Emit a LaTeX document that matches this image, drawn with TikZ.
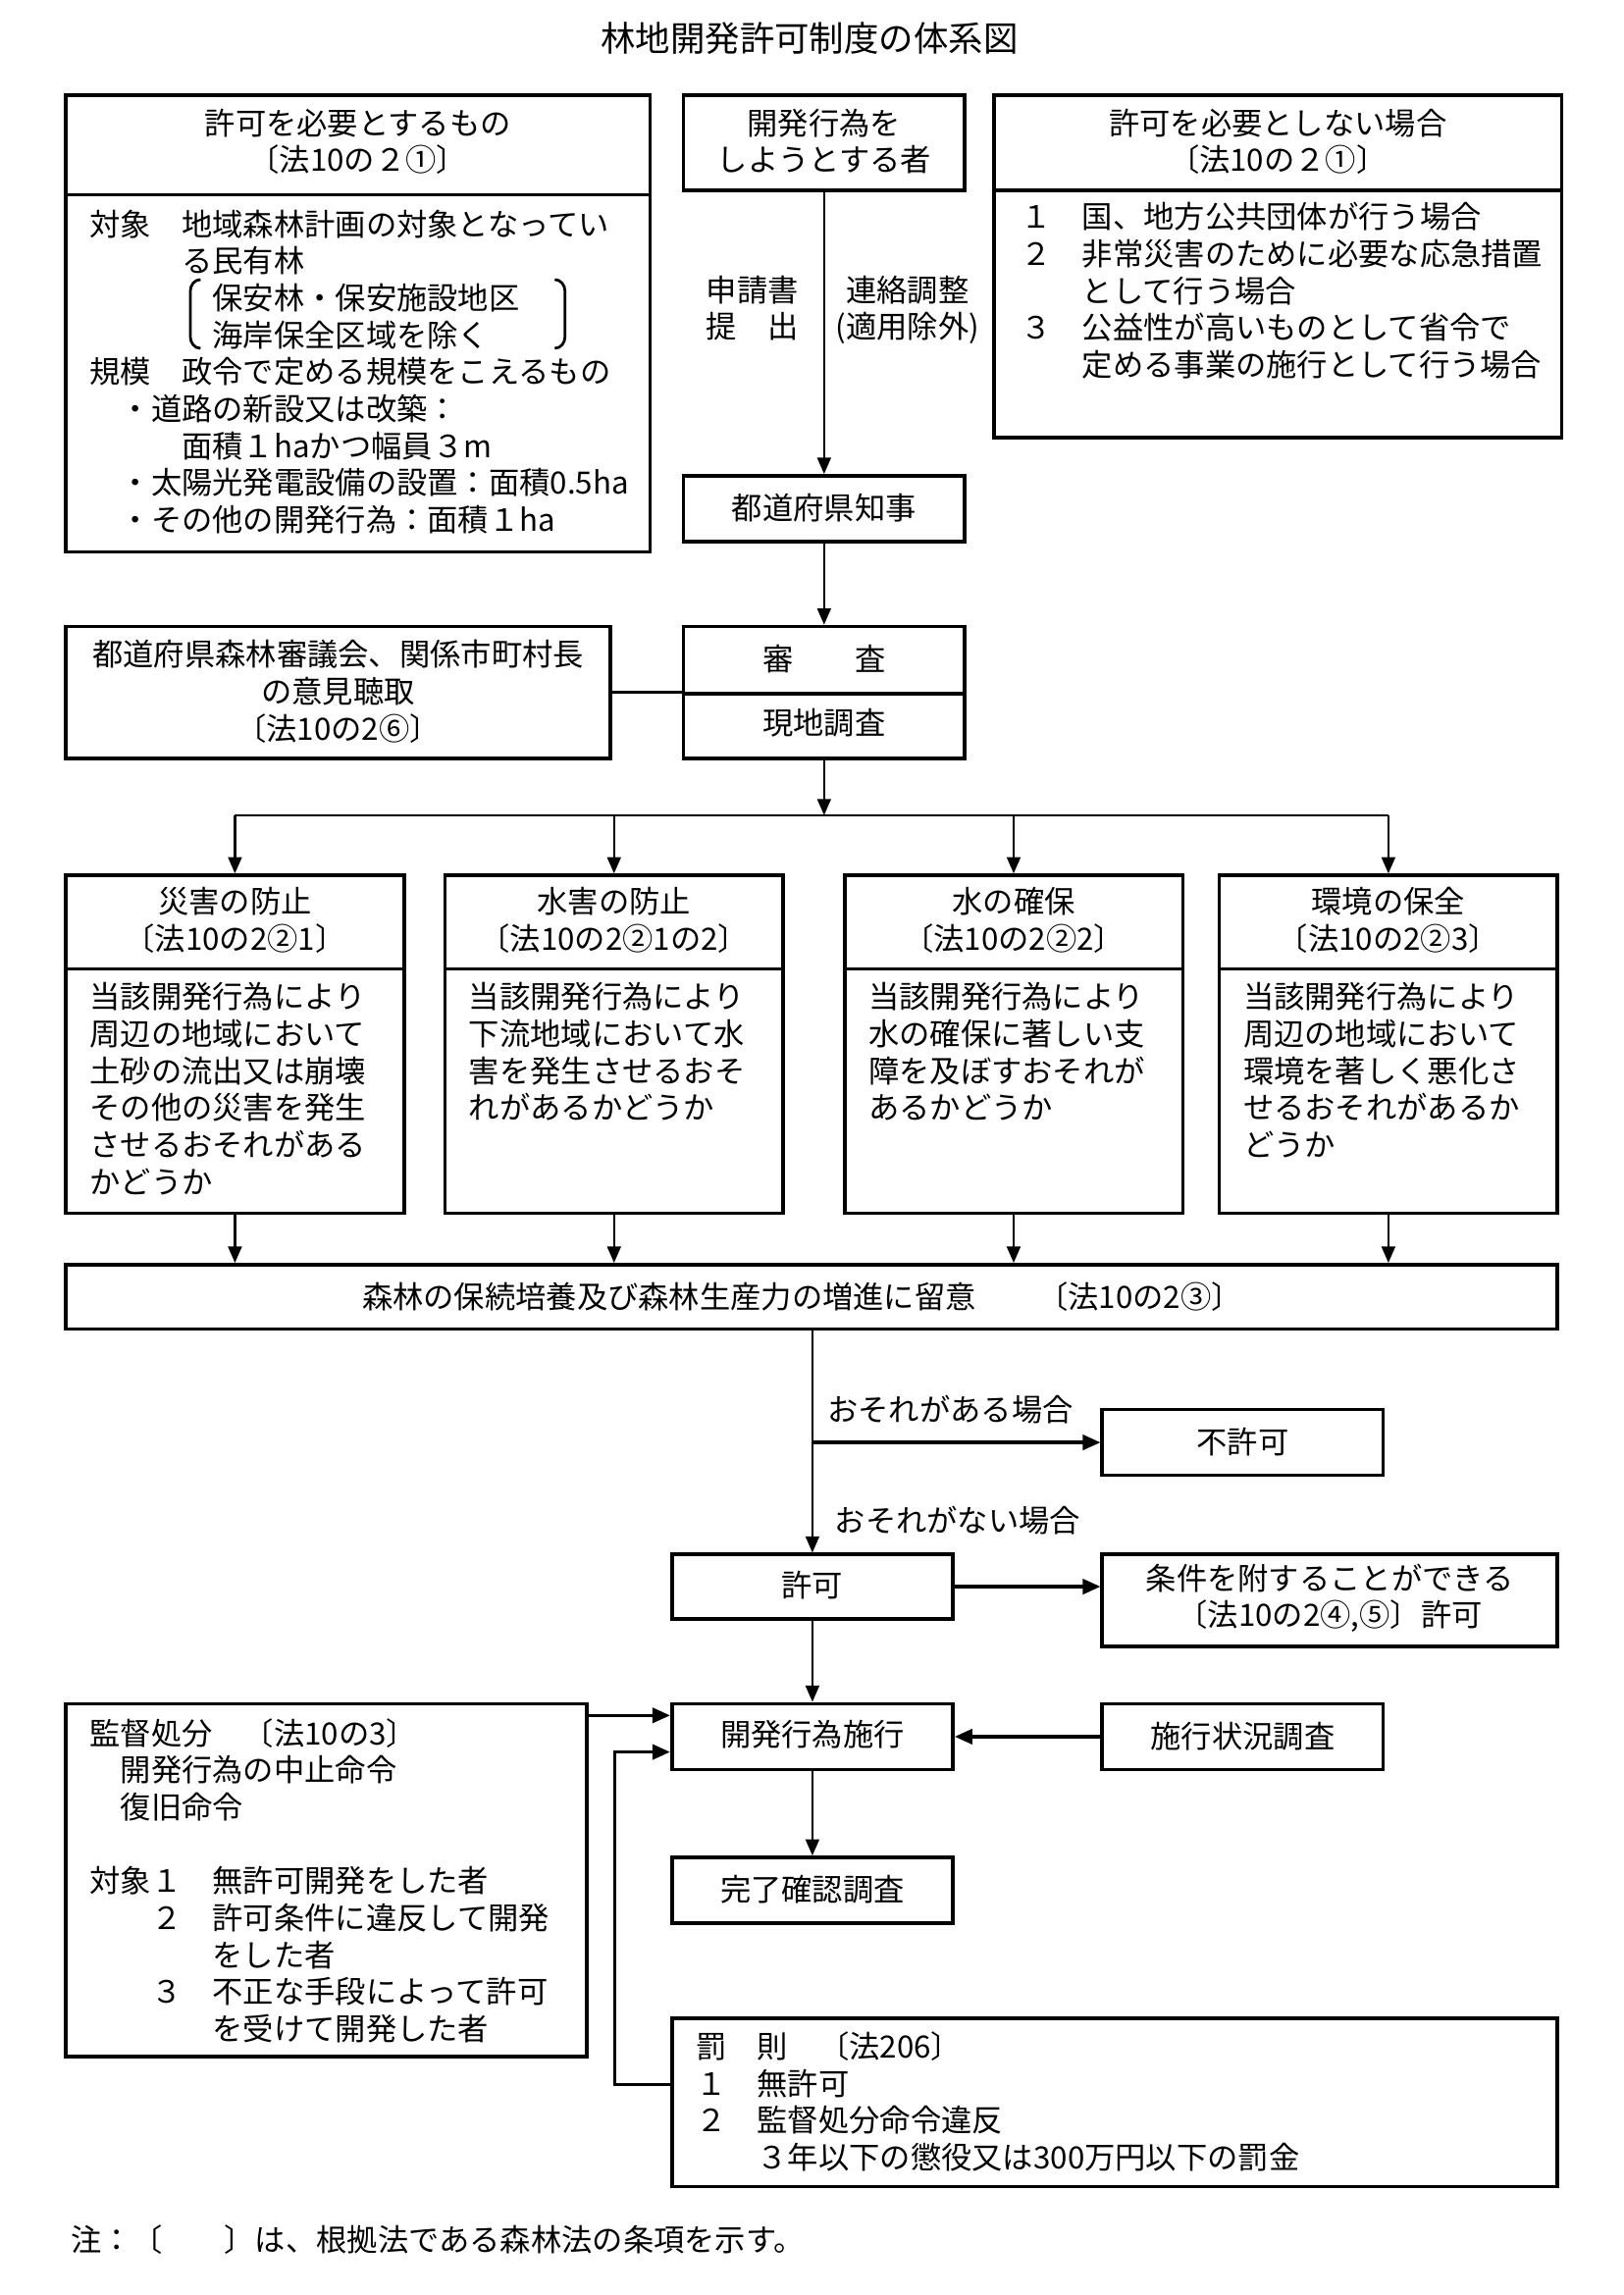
\documentclass[tikz,border=0pt]{standalone}
\usepackage{fontspec}
\setmainfont{Noto Sans CJK JP}
\usetikzlibrary{arrows.meta,fit}
\newcommand\LinesL[1]{\vtop{\baselineskip=13.6pt\lineskiplimit=-100pt\lineskip=0pt\halign{##\hfil\cr#1\crcr}}}
\newcommand\LinesC[1]{\vtop{\baselineskip=13.6pt\lineskiplimit=-100pt\lineskip=0pt\halign{\hfil##\hfil\cr#1\crcr}}}
\tikzset{
  bx/.style={draw, line width=1.3pt, inner sep=0pt},
  ln/.style={line width=0.8pt},
  ar/.style={line width=0.8pt, -{Triangle[length=6pt,width=5pt]}},
  arh/.style={line width=1.2pt, -{Triangle[length=6.5pt,width=5.5pt]}},
  tx/.style={inner sep=0pt, anchor=base},
  txl/.style={inner sep=0pt, anchor=base west},
}
\begin{document}
\begin{tikzpicture}[x=0.18936mm, y=-0.18936mm, font=\fontsize{11.3pt}{13.6pt}\selectfont]
\useasboundingbox (0,0) rectangle (1109,1568);

% title
\node[tx, font=\fontsize{12.8pt}{15pt}\selectfont] (title) at (553,35) {林地開発許可制度の体系図};

% box A
\node[bx, fit={(45,65)(444,133)}] (Ah) {};
\node[bx, fit={(45,133)(444,377)}] (Ab) {};
\node[tx] (Aht) at (244.5,92) {\LinesC{許可を必要とするもの\cr 〔法10の２①〕}};
\node[txl] (Abt) at (61,161) {\LinesL{対象　地域森林計画の対象となってい\cr 　　　る民有林\cr 　　　　保安林・保安施設地区\cr 　　　　海岸保全区域を除く\cr 規模　政令で定める規模をこえるもの\cr 　・道路の新設又は改築：\cr 　　　面積１haかつ幅員３m\cr 　・太陽光発電設備の設置：面積0.5ha\cr 　・その他の開発行為：面積１ha}};
\draw[line width=1pt] (137,191) to[out=180,in=90] (130,199) -- (130,230) to[out=-90,in=180] (137,238);
\draw[line width=1pt] (379,191) to[out=0,in=90] (386,199) -- (386,230) to[out=-90,in=0] (379,238);

% box B
\node[bx, fit={(467,65)(659,130)}] (B) {};
\node[tx] (Bt) at (563,92) {\LinesC{開発行為を\cr しようとする者}};

% box C
\node[bx, fit={(679,65)(1067,130)}] (Ch) {};
\node[bx, fit={(679,130)(1067,299)}] (Cb) {};
\node[tx] (Cht) at (873,92) {\LinesC{許可を必要としない場合\cr 〔法10の２①〕}};
\node[txl] (Cbt) at (697,156) {\LinesL{１　国、地方公共団体が行う場合\cr ２　非常災害のために必要な応急措置\cr 　　として行う場合\cr ３　公益性が高いものとして省令で\cr 　　定める事業の施行として行う場合}};

% labels on first arrow
\node[tx] (l1) at (514,206) {\LinesC{申請書\cr 提　出}};
\node[tx] (l2) at (620,206) {\LinesC{連絡調整\cr (適用除外)}};

% D, E, F
\node[bx, fit={(467,325)(659,370)}] (D) {};
\node[tx] (Dt) at (563,355) {都道府県知事};
\node[bx, fit={(467,428)(659,474)}] (E1) {};
\node[bx, fit={(467,474)(659,518)}] (E2) {};
\node[tx] (E1t) at (563,458) {審　　査};
\node[tx] (E2t) at (563,502) {現地調査};
\node[bx, fit={(45,428)(417,518)}] (F) {};
\node[tx] (Ft) at (231,455) {\LinesC{都道府県森林審議会、関係市町村長\cr の意見聴取\cr 〔法10の2⑥〕}};

% four boxes
\node[bx, fit={(45,598)(276,662)}] (G1h) {};
\node[bx, fit={(45,662)(276,829)}] (G1b) {};
\node[tx] (G1ht) at (160.5,624) {\LinesC{災害の防止\cr 〔法10の2②1〕}};
\node[txl] (G1bt) at (61,689) {\LinesL{当該開発行為により\cr 周辺の地域において\cr 土砂の流出又は崩壊\cr その他の災害を発生\cr させるおそれがある\cr かどうか}};

\node[bx, fit={(304,598)(535,662)}] (G2h) {};
\node[bx, fit={(304,662)(535,829)}] (G2b) {};
\node[tx] (G2ht) at (419.5,624) {\LinesC{水害の防止\cr 〔法10の2②1の2〕}};
\node[txl] (G2bt) at (320,689) {\LinesL{当該開発行為により\cr 下流地域において水\cr 害を発生させるおそ\cr れがあるかどうか}};

\node[bx, fit={(577,598)(808,662)}] (G3h) {};
\node[bx, fit={(577,662)(808,829)}] (G3b) {};
\node[tx] (G3ht) at (692.5,624) {\LinesC{水の確保\cr 〔法10の2②2〕}};
\node[txl] (G3bt) at (593,689) {\LinesL{当該開発行為により\cr 水の確保に著しい支\cr 障を及ぼすおそれが\cr あるかどうか}};

\node[bx, fit={(833,598)(1064,662)}] (G4h) {};
\node[bx, fit={(833,662)(1064,829)}] (G4b) {};
\node[tx] (G4ht) at (948.5,624) {\LinesC{環境の保全\cr 〔法10の2②3〕}};
\node[txl] (G4bt) at (849,689) {\LinesL{当該開発行為により\cr 周辺の地域において\cr 環境を著しく悪化さ\cr せるおそれがあるか\cr どうか}};

% H
\node[bx, fit={(45,864)(1064,908)}] (H) {};
\node[tx] (Ht) at (548,894) {森林の保続培養及び森林生産力の増進に留意　　〔法10の2③〕};

% decision
\node[bx, fit={(753,963)(945,1008)}] (NP) {};
\node[tx] (NPt) at (849,993) {不許可};
\node[bx, fit={(459,1062)(651,1106)}] (P) {};
\node[tx] (Pt) at (555,1091) {許可};
\node[bx, fit={(753,1062)(1064,1125)}] (Cond) {};
\node[tx] (Condt) at (908.5,1086) {\LinesC{条件を附することができる\cr 〔法10の2④,⑤〕許可}};
\node[txl] (lab1) at (565,971) {おそれがある場合};
\node[txl] (lab2) at (570,1047) {おそれがない場合};

% execution
\node[bx, fit={(459,1164)(651,1209)}] (Exec) {};
\node[tx] (Exect) at (555,1193) {開発行為施行};
\node[bx, fit={(753,1164)(945,1209)}] (Insp) {};
\node[tx] (Inspt) at (849,1194) {施行状況調査};
\node[bx, fit={(459,1269)(651,1314)}] (Done) {};
\node[tx] (Donet) at (555,1299) {完了確認調査};

\node[bx, fit={(45,1164)(401,1405)}] (Sup) {};
\node[txl] (Supt) at (61,1192) {\LinesL{監督処分　〔法10の3〕\cr 　開発行為の中止命令\cr 　復旧命令\cr \hbox{}\cr 対象１　無許可開発をした者\cr 　　２　許可条件に違反して開発\cr 　　　　をした者\cr 　　３　不正な手段によって許可\cr 　　　　を受けて開発した者}};

\node[bx, fit={(459,1379)(1064,1494)}] (Pen) {};
\node[txl] (Pent) at (475,1406) {\LinesL{罰　則　〔法206〕\cr １　無許可\cr ２　監督処分命令違反\cr 　　３年以下の懲役又は300万円以下の罰金}};

% footer
\node[txl] (foot) at (48,1538) {注：〔　　〕は、根拠法である森林法の条項を示す。};

% connectors
\draw[ar] (B.south) -- (D.north);
\draw[ar] (D.south) -- (E1.north);
\draw[line width=1pt] (F.east) -- (F.east -| E1.west);
\coordinate (j1) at (563,557);
\draw[ar] (E2.south) -- (j1);
\draw[ln] (j1 -| G1h.north) -- (j1 -| G4h.north);
\draw[ar] (j1 -| G1h.north) -- (G1h.north);
\draw[ar] (j1 -| G2h.north) -- (G2h.north);
\draw[ar] (j1 -| G3h.north) -- (G3h.north);
\draw[ar] (j1 -| G4h.north) -- (G4h.north);
\draw[ar] (G1b.south) -- (G1b.south |- H.north);
\draw[ar] (G2b.south) -- (G2b.south |- H.north);
\draw[ar] (G3b.south) -- (G3b.south |- H.north);
\draw[ar] (G4b.south) -- (G4b.south |- H.north);
\draw[ar] (P.north |- H.south) -- (P.north);
\draw[arh] (P.north |- NP.west) -- (NP.west);
\draw[arh] (P.east) -- (P.east -| Cond.west);
\draw[ar] (P.south) -- (Exec.north);
\draw[arh] (Insp.west) -- (Exec.east);
\coordinate (y1) at (0,1172);
\draw[arh] (Sup.east |- y1) -- (Exec.west |- y1);
\coordinate (k1) at (420,1424);
\coordinate (k2) at (420,1197);
\draw[arh] (Pen.west |- k1) -- (k1) -- (k2) -- (Exec.west |- k2);
\draw[ar] (Exec.south) -- (Done.north);
\end{tikzpicture}
\end{document}
